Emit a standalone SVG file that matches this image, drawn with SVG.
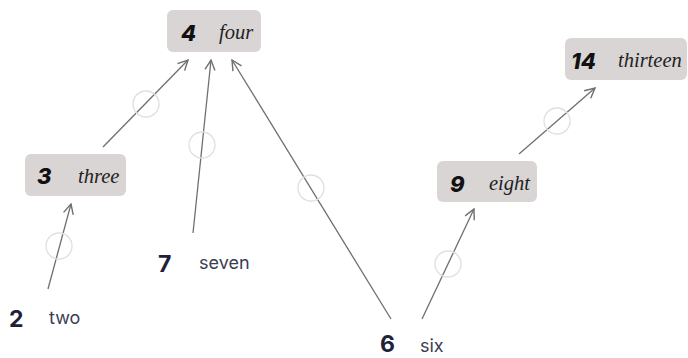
<svg xmlns="http://www.w3.org/2000/svg" width="688" height="358" viewBox="0 0 688 358">
<defs>
<marker id="arr" viewBox="0 0 12 12" refX="11" refY="6" markerWidth="12" markerHeight="12" markerUnits="userSpaceOnUse" orient="auto">
<path d="M1,1 L11,6 L1,11" fill="none" stroke="#6f6f6f" stroke-width="1.4"/>
</marker>
</defs>
<style>
.box{fill:#d9d5d5;}
.num{font-family:Inter,"Liberation Sans",sans-serif;font-weight:800;font-style:italic;font-size:22px;fill:#111;}
.lbl{font-family:"Liberation Serif",serif;font-style:italic;font-size:20.5px;fill:#222;}
.pnum{font-family:Inter,"Liberation Sans",sans-serif;font-weight:700;font-size:23px;fill:#1e2238;}
.plbl{font-family:Inter,"Liberation Sans",sans-serif;font-size:18px;fill:#3a3e52;}
.e{stroke:#6f6f6f;stroke-width:1.3;fill:none;marker-end:url(#arr);}
.c{fill:none;stroke:#e2dede;stroke-width:1.3;}
</style>
<g id="connectors">
<line class="e" x1="48" y1="289" x2="71" y2="204"/>
<circle class="c" cx="59" cy="246" r="13"/>
<line class="e" x1="103" y1="147" x2="188" y2="60"/>
<circle class="c" cx="146" cy="104" r="13"/>
<line class="e" x1="193" y1="233" x2="211" y2="60"/>
<circle class="c" cx="202" cy="145" r="13"/>
<line class="e" x1="391" y1="319" x2="232" y2="60"/>
<circle class="c" cx="311" cy="188" r="13"/>
<line class="e" x1="422" y1="319" x2="474" y2="209"/>
<circle class="c" cx="448" cy="264" r="13"/>
<line class="e" x1="519" y1="154" x2="595" y2="88"/>
<circle class="c" cx="557" cy="121" r="13"/>
</g>
<g id="n4">
<rect class="box" x="167" y="10" width="94" height="42" rx="6"/>
<text class="num" x="181" y="41">4</text>
<text class="lbl" x="219" y="39">four</text>
</g>
<g id="n3">
<rect class="box" x="25" y="154" width="101" height="42" rx="6"/>
<text class="num" x="37" y="184">3</text>
<text class="lbl" x="78" y="183">three</text>
</g>
<g id="n14">
<rect class="box" x="565" y="38" width="122" height="42" rx="6"/>
<text class="num" x="571" y="69">14</text>
<text class="lbl" x="618" y="67">thirteen</text>
</g>
<g id="n9">
<rect class="box" x="437" y="161" width="100" height="41" rx="6"/>
<text class="num" x="450" y="192">9</text>
<text class="lbl" x="489" y="190">eight</text>
</g>
<g id="n2">
<text class="pnum" x="9" y="327">2</text>
<text class="plbl" x="49" y="324">two</text>
</g>
<g id="n7">
<text class="pnum" x="158" y="272">7</text>
<text class="plbl" x="199" y="269">seven</text>
</g>
<g id="n6">
<text class="pnum" x="380" y="352">6</text>
<text class="plbl" x="420" y="352">six</text>
</g>
</svg>
